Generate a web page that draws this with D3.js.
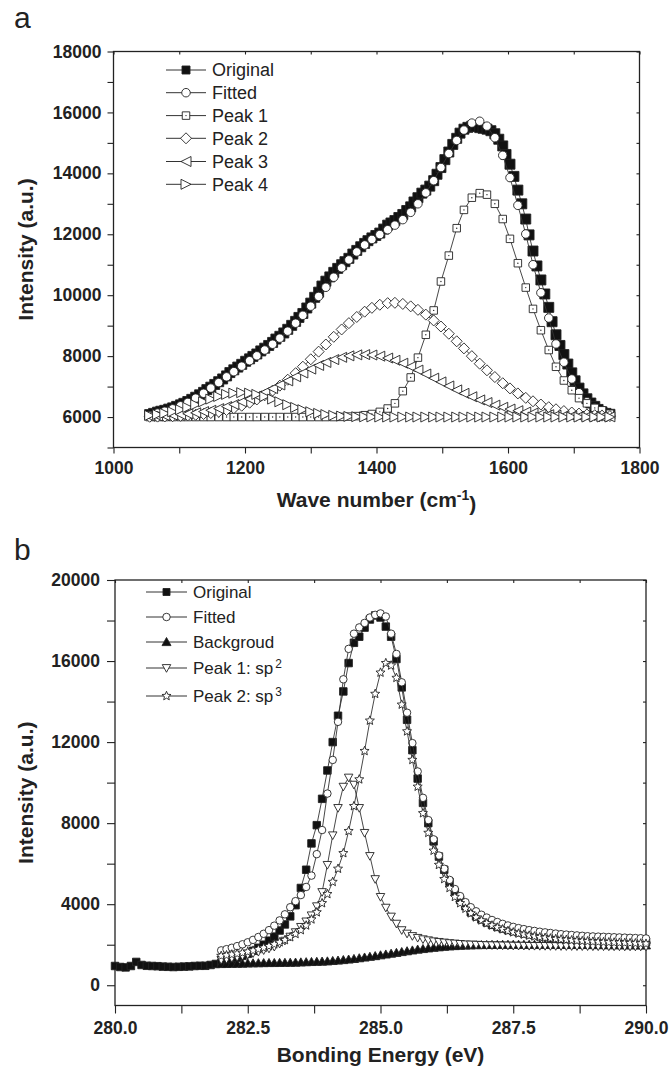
<!DOCTYPE html>
<html><head><meta charset="utf-8">
<script src="https://cdn.jsdelivr.net/npm/d3@7"></script>
<style>
body{margin:0;background:#fff}
svg{display:block}
text{font-family:"Liberation Sans",Arial,Helvetica,sans-serif;fill:#222}
</style></head>
<body><svg id="chart" width="670" height="1068"></svg>
<script>
// ---------------- Panel a data ----------------
const waveX = [1055,1067,1078,1090,1102,1113,1125,1137,1148,1160,
1172,1183,1195,1207,1218,1230,1242,1253,1265,1277,
1288,1300,1312,1323,1335,1347,1358,1370,1382,1393,
1405,1417,1428,1440,1452,1463,1475,1487,1498,1510,
1522,1533,1545,1557,1568,1580,1592,1603,1615,1627,
1638,1650,1662,1673,1685,1697,1708,1720,1732,1743,1755];
const fittedA = [6050,6130,6190,6270,6370,6480,6620,6780,6950,7130,
7320,7490,7670,7850,8010,8200,8390,8590,8820,9080,
9340,9640,9960,10260,10590,10900,11160,11420,11650,11830,
11990,12150,12300,12480,12720,13000,13360,13760,14190,14650,
15080,15420,15650,15710,15550,15170,14590,13860,12950,12010,
11000,10080,9250,8400,7800,7250,6800,6500,6300,6170,6090];
const peak1A = [6000,6000,6000,6000,6000,6000,6000,6000,6000,6000,
6000,6000,6000,6000,6000,6000,6000,6000,6000,6000,
6000,6000,6000,6000,6000,6005,6015,6030,6060,6100,
6170,6280,6450,6850,7300,7950,8700,9500,10450,11300,
12200,12800,13200,13350,13300,13000,12500,11850,11050,10250,
9550,8850,8200,7650,7200,6880,6620,6450,6300,6220,6110];
const peak2A = [6009,6014,6019,6028,6039,6054,6074,6100,6132,6175,
6229,6291,6372,6471,6577,6713,6869,7031,7226,7440,
7652,7896,8147,8381,8633,8875,9083,9285,9459,9585,
9686,9739,9750,9713,9633,9520,9362,9171,8972,8735,
8486,8254,7999,7751,7534,7313,7110,6940,6775,6630,
6517,6411,6323,6255,6196,6148,6114,6084,6061,6045,6032];
const peak3A = [6026,6036,6047,6064,6084,6108,6139,6179,6222,6277,
6343,6412,6498,6595,6693,6809,6933,7053,7187,7322,
7445,7574,7694,7792,7886,7960,8009,8042,8050,8036,
7998,7937,7864,7767,7655,7542,7412,7277,7153,7020,
6891,6779,6666,6562,6476,6392,6320,6262,6209,6165,
6131,6101,6077,6059,6044,6032,6024,6017,6012,6009,6006];
const peak4A = [6053,6082,6120,6173,6241,6315,6405,6501,6589,6675,
6743,6784,6800,6784,6743,6675,6589,6501,6405,6315,
6241,6173,6120,6082,6053,6032,6020,6011,6006,6003,
6001,6000,6000,6000,6000,6000,6000,6000,6000,6000,
6000,6000,6000,6000,6000,6000,6000,6000,6000,6000,
6000,6000,6000,6000,6000,6000,6000,6000,6000,6000,6000];
const originalAX = [1055,1061,1067,1072,1078,1084,1090,1096,1102,1107,
1113,1119,1125,1131,1137,1142,1148,1154,1160,1166,
1172,1177,1183,1189,1195,1201,1207,1212,1218,1224,
1230,1236,1242,1247,1253,1259,1265,1271,1277,1282,
1288,1294,1300,1306,1312,1317,1323,1329,1335,1341,
1347,1352,1358,1364,1370,1376,1382,1387,1393,1399,
1405,1411,1417,1422,1428,1434,1440,1446,1452,1457,
1463,1469,1475,1481,1487,1492,1498,1504,1510,1516,
1522,1527,1533,1539,1545,1551,1557,1562,1568,1574,
1580,1586,1592,1597,1603,1609,1615,1621,1627,1632,
1638,1644,1650,1656,1662,1667,1673,1679,1685,1691,
1697,1702,1708,1714,1720,1726,1732,1737,1743,1749,1755];
const originalAY = [6080,6120,6160,6190,6220,6260,6300,6350,6400,6450,
6510,6580,6650,6730,6810,6900,6980,7070,7160,7250,
7350,7460,7550,7640,7730,7830,7910,7990,8070,8170,
8260,8350,8450,8560,8650,8760,8880,9010,9140,9270,
9400,9580,9740,9930,10100,10300,10460,10600,10750,10880,
11000,11100,11210,11350,11470,11590,11700,11790,11880,11960,
12040,12170,12300,12370,12450,12550,12650,12780,12900,13060,
13200,13350,13450,13580,13760,13970,14190,14450,14700,14950,
15150,15320,15450,15510,15550,15540,15500,15480,15450,15400,
15300,15120,14900,14620,14300,13900,13450,13000,12500,11980,
11450,10960,10500,10040,9600,9130,8700,8350,8050,7740,
7450,7190,6950,6760,6600,6460,6350,6250,6170,6120,6090];
const aXTicks = [1000,1100,1200,1300,1400,1500,1600,1700,1800];
const aXLabels = ["1000","1200","1400","1600","1800"];
const aYTicks = [5000,6000,7000,8000,9000,10000,11000,12000,13000,14000,15000,16000,17000,18000];
const aYLabels = ["6000","8000","10000","12000","14000","16000","18000"];
const aLegend = ["Original","Fitted","Peak 1","Peak 2","Peak 3","Peak 4"];

// ---------------- Panel b data ----------------
const energyX = [280.0,280.1,280.2,280.3,280.4,280.5,280.6,280.7,280.8,280.9,
281.0,281.1,281.2,281.3,281.4,281.5,281.6,281.7,281.8,281.9,
282.0,282.1,282.2,282.3,282.4,282.5,282.6,282.7,282.8,282.9,
283.0,283.1,283.2,283.3,283.4,283.5,283.6,283.7,283.8,283.9,
284.0,284.1,284.2,284.3,284.4,284.5,284.6,284.7,284.8,284.9,
285.0,285.1,285.2,285.3,285.4,285.5,285.6,285.7,285.8,285.9,
286.0,286.1,286.2,286.3,286.4,286.5,286.6,286.7,286.8,286.9,
287.0,287.1,287.2,287.3,287.4,287.5,287.6,287.7,287.8,287.9,
288.0,288.1,288.2,288.3,288.4,288.5,288.6,288.7,288.8,288.9,
289.0,289.1,289.2,289.3,289.4,289.5,289.6,289.7,289.8,289.9,290.0];
const originalB = [950,900,880,950,1150,1000,960,950,940,920,
910,900,910,920,930,950,960,960,1000,1050,
1100,1150,1250,1350,1450,1550,1700,1850,2000,2200,
2400,2700,3000,3400,3950,4800,5700,7000,7900,9200,
10600,12000,13300,14500,15900,16900,17200,17650,18050,18250,
18150,17700,17200,16100,14700,13100,11600,10200,9000,8000,
7100,6350,5700,5100,4600,4200,3900,3600,3400,3250,
3100,2980,2880,2800,2730,2670,2610,2560,2520,2480,
2440,2410,2380,2350,2330,2310,2290,2270,2250,2240,
2230,2220,2210,2200,2190,2180,2170,2160,2150,2140,2130];
const fitX = [282.0,282.1,282.2,282.3,282.4,282.5,282.6,282.7,282.8,282.9,
283.0,283.1,283.2,283.3,283.4,283.5,283.6,283.7,283.8,283.9,
284.0,284.1,284.2,284.3,284.4,284.5,284.6,284.7,284.8,284.9,
285.0,285.1,285.2,285.3,285.4,285.5,285.6,285.7,285.8,285.9,
286.0,286.1,286.2,286.3,286.4,286.5,286.6,286.7,286.8,286.9,
287.0,287.1,287.2,287.3,287.4,287.5,287.6,287.7,287.8,287.9,
288.0,288.1,288.2,288.3,288.4,288.5,288.6,288.7,288.8,288.9,
289.0,289.1,289.2,289.3,289.4,289.5,289.6,289.7,289.8,289.9,290.0];
const fittedB = [1720,1780,1850,1930,2020,2120,2240,2380,2540,2720,
2940,3200,3500,3850,4150,4450,4850,5410,6470,7660,
9460,11120,13000,15100,16600,17350,17660,17880,18150,18280,
18350,18200,17350,16350,14950,13450,11950,10550,9250,8150,
7200,6400,5750,5200,4750,4400,4100,3850,3650,3480,
3340,3220,3120,3030,2950,2880,2820,2770,2720,2680,
2640,2610,2580,2550,2520,2500,2480,2460,2440,2420,
2410,2400,2390,2380,2370,2360,2350,2340,2330,2320,2310];
const backgroundB = [1050,1055,1060,1065,1070,1080,1085,1090,1095,1100,
1100,1105,1110,1115,1120,1130,1140,1150,1160,1170,
1180,1200,1220,1245,1270,1300,1335,1370,1405,1440,
1480,1520,1560,1600,1640,1680,1720,1760,1790,1820,
1850,1875,1900,1920,1935,1950,1960,1970,1980,1985,
1990,1995,1995,2000,2000,2000,2000,2000,2000,2000,
2000,2000,2000,1995,1995,1995,1990,1990,1990,1990,
1985,1985,1985,1980,1980,1980,1975,1975,1975,1970,1970];
const sp2B = [1250,1290,1340,1390,1450,1510,1580,1650,1730,1810,
1900,2050,2200,2400,2620,2880,3150,3450,3900,4600,
5940,7400,8750,9800,10250,9900,8750,7520,6380,5240,
4360,3830,3390,3040,2720,2550,2430,2340,2270,2220,
2170,2140,2110,2080,2060,2040,2020,2010,2000,1990,
1980,1975,1970,1965,1960,1955,1950,1950,1945,1945,
1940,1940,1935,1935,1930,1930,1930,1925,1925,1925,
1920,1920,1920,1915,1915,1915,1910,1910,1910,1910,1905];
const sp3B = [1450,1480,1520,1560,1600,1650,1710,1780,1850,1930,
2020,2120,2230,2370,2530,2720,2950,3250,3600,4050,
4500,5100,5750,6520,7610,8840,10160,11560,13060,14380,
15430,15900,15780,15170,13850,12530,11120,9800,8490,7520,
6640,5940,5240,4800,4360,4050,3780,3550,3350,3200,
3060,2950,2850,2760,2680,2610,2550,2500,2450,2410,
2370,2340,2310,2280,2260,2240,2220,2200,2180,2170,
2150,2140,2130,2120,2110,2100,2090,2080,2070,2060,2050];
const bXTicks = [280,281.25,282.5,283.75,285,286.25,287.5,288.75,290];
const bXLabels = ["280.0","282.5","285.0","287.5","290.0"];
const bYTicks = [0,2000,4000,6000,8000,10000,12000,14000,16000,18000,20000];
const bYLabels = ["0","4000","8000","12000","16000","20000"];
const bLegend = ["Original","Fitted","Backgroud","Peak 1: sp","Peak 2: sp"];
const bLegendSup = ["","","","2","3"];

// ---------------- drawing helpers ----------------
const svg = d3.select("#chart");
const INK = "#222";

function shape(type, s) {
  const h = s / 2;
  switch (type) {
    case "square": return `M${-h},${-h}H${h}V${h}H${-h}Z`;
    case "circle": return `M${h},0A${h},${h} 0 1,1 ${-h},0A${h},${h} 0 1,1 ${h},0Z`;
    case "diamond": return `M0,${-h}L${h},0L0,${h}L${-h},0Z`;
    case "triLeft": return `M${-h},0L${h},${-h}L${h},${h}Z`;
    case "triRight": return `M${h},0L${-h},${-h}L${-h},${h}Z`;
    case "triUp": return `M0,${-h}L${h},${h * 0.8}L${-h},${h * 0.8}Z`;
    case "triDown": return `M0,${h}L${h},${-h * 0.8}L${-h},${-h * 0.8}Z`;
    case "star": {
      let p = "";
      for (let i = 0; i < 10; i++) {
        const r = i % 2 ? h * 0.45 : h;
        const a = -Math.PI / 2 + i * Math.PI / 5;
        p += (i ? "L" : "M") + (r * Math.cos(a)).toFixed(2) + "," + (r * Math.sin(a)).toFixed(2);
      }
      return p + "Z";
    }
  }
}

function drawMarker(g, type, size, fill, dot) {
  g.append("path").attr("d", shape(type, size))
    .attr("fill", fill).attr("stroke", INK).attr("stroke-width", 0.9);
  if (dot) g.append("circle").attr("r", 0.7).attr("fill", INK);
}

function drawPanel(p) {
  const g = svg.append("g");
  const x = d3.scaleLinear(p.xDomain, p.xRange);
  const y = d3.scaleLinear(p.yDomain, p.yRange);
  const [x0, x1] = p.xRange, [yb, yt] = p.yRange;

  const fmtX = d => { const i = p.xLabelVals.findIndex(v => Math.abs(v - d) < 1e-6); return i >= 0 ? p.xLabels[i] : ""; };
  const fmtY = d => { const i = p.yLabelVals.findIndex(v => Math.abs(v - d) < 1e-6); return i >= 0 ? p.yLabels[i] : ""; };
  const ax = g.append("g").attr("transform", `translate(0,${yb})`)
    .call(d3.axisBottom(x).tickValues(p.xTicks).tickSize(p.tick).tickPadding(p.xPad).tickFormat(fmtX));
  const ay = g.append("g").attr("transform", `translate(${x0},0)`)
    .call(d3.axisLeft(y).tickValues(p.yTicks).tickSize(p.tick).tickPadding(p.yPad).tickFormat(fmtY));
  const at = g.append("g").attr("transform", `translate(0,${yt})`)
    .call(d3.axisTop(x).tickValues(p.xTicks).tickSize(-3).tickFormat(""));
  const ar = g.append("g").attr("transform", `translate(${x1},0)`)
    .call(d3.axisRight(y).tickValues(p.yTicks).tickSize(-3).tickFormat(""));
  [ax, ay, at, ar].forEach(a => {
    a.selectAll(".domain").remove();
    a.selectAll("line").attr("stroke", INK).attr("stroke-width", 1.1);
    a.selectAll("text").attr("font-size", "17.5px").attr("font-weight", "bold").attr("fill", INK)
      .style("font-family", '"Liberation Sans",Arial,sans-serif');
  });
  g.append("rect").attr("x", x0).attr("y", yt).attr("width", x1 - x0).attr("height", yb - yt)
    .attr("fill", "none").attr("stroke", INK).attr("stroke-width", 1.3);

  const line = d3.line().x(d => x(d[0])).y(d => y(d[1]));
  p.series.forEach(s => {
    const pts = s.xs.map((v, i) => [v, s.ys[i]]);
    g.append("path").attr("d", line(pts)).attr("fill", "none").attr("stroke", "#333").attr("stroke-width", 0.9);
    const mk = g.append("g");
    pts.forEach(d => {
      const m = mk.append("g").attr("transform", `translate(${x(d[0])},${y(d[1])})`);
      drawMarker(m, s.type, s.size, s.fill, s.dot);
    });
  });

  p.series.forEach((s, i) => {
    const ly = p.legendY[i];
    g.append("line").attr("x1", p.legendX[0]).attr("x2", p.legendX[1]).attr("y1", ly).attr("y2", ly)
      .attr("stroke", "#333").attr("stroke-width", 1);
    const m = g.append("g").attr("transform", `translate(${(p.legendX[0] + p.legendX[1]) / 2},${ly})`);
    drawMarker(m, s.type, s.legSize || s.size, s.fill, s.dot);
    const t = g.append("text").attr("x", p.legendX[1] + 6).attr("y", ly).attr("dy", "0.36em")
      .attr("font-size", p.legendFont + "px").text(s.name);
    if (s.sup) t.append("tspan").attr("dy", "-0.55em").attr("dx", "2").attr("font-size", (p.legendFont * 0.7) + "px").text(s.sup);
  });

  const xt = g.append("text").attr("x", (x0 + x1) / 2).attr("y", p.xTitleY).attr("text-anchor", "middle")
    .attr("font-size", "21px").attr("font-weight", "bold");
  p.xTitle(xt);
  g.append("text").attr("transform", `translate(${p.yTitleX},${(yb + yt) / 2}) rotate(-90)`)
    .attr("text-anchor", "middle").attr("font-size", "21px").attr("font-weight", "bold").text("Intensity (a.u.)");
  g.append("text").attr("x", 14).attr("y", p.letterY).attr("font-size", "30px").text(p.letter);
}

drawPanel({
  letter: "a", letterY: 28,
  xDomain: [1000, 1800], xRange: [113.5, 639.5],
  yDomain: [5000, 18000], yRange: [447.5, 51.5],
  xTicks: aXTicks, xLabelVals: aXLabels.map(Number), xLabels: aXLabels,
  yTicks: aYTicks, yLabelVals: aYLabels.map(Number), yLabels: aYLabels,
  tick: 6, xPad: 8, yPad: 6,
  legendX: [166, 206], legendY: [70, 92.7, 115.6, 138.3, 161.5, 184.3], legendFont: 18,
  xTitleY: 507, yTitleX: 33,
  xTitle: t => { t.append("tspan").text("Wave number (cm"); t.append("tspan").attr("dy", "-0.5em").attr("font-size", "14px").text("-1"); t.append("tspan").attr("dy", "0.5em").text(")"); },
  series: [
    { name: aLegend[0], xs: originalAX, ys: originalAY, type: "square", size: 10, legSize: 8, fill: "#111" },
    { name: aLegend[1], xs: waveX, ys: fittedA, type: "circle", size: 8.5, fill: "#fff" },
    { name: aLegend[2], xs: waveX, ys: peak1A, type: "square", size: 7.5, fill: "#fff", dot: true },
    { name: aLegend[3], xs: waveX, ys: peak2A, type: "diamond", size: 11, fill: "#fff" },
    { name: aLegend[4], xs: waveX, ys: peak3A, type: "triLeft", size: 10, fill: "#fff" },
    { name: aLegend[5], xs: waveX, ys: peak4A, type: "triRight", size: 10, fill: "#fff" }
  ]
});

drawPanel({
  letter: "b", letterY: 560,
  xDomain: [280, 290], xRange: [115, 646],
  yDomain: [-1000, 20000], yRange: [1005.5, 580],
  xTicks: bXTicks, xLabelVals: bXLabels.map(Number), xLabels: bXLabels,
  yTicks: bYTicks, yLabelVals: bYLabels.map(Number), yLabels: bYLabels,
  tick: 8, xPad: 8, yPad: 7,
  legendX: [146, 187], legendY: [592, 617, 642, 668, 696], legendFont: 17,
  xTitleY: 1062, yTitleX: 33,
  xTitle: t => t.text("Bonding Energy (eV)"),
  series: [
    { name: bLegend[0], xs: energyX, ys: originalB, type: "square", size: 7.5, legSize: 7, fill: "#111" },
    { name: bLegend[1], xs: fitX, ys: fittedB, type: "circle", size: 7.5, fill: "#fff" },
    { name: bLegend[2], xs: fitX, ys: backgroundB, type: "triUp", size: 9, fill: "#111" },
    { name: bLegend[3], xs: fitX, ys: sp2B, type: "triDown", size: 8.5, fill: "#fff", sup: bLegendSup[3] },
    { name: bLegend[4], xs: fitX, ys: sp3B, type: "star", size: 9.5, fill: "#fff", sup: bLegendSup[4] }
  ]
});
</script></body></html>
